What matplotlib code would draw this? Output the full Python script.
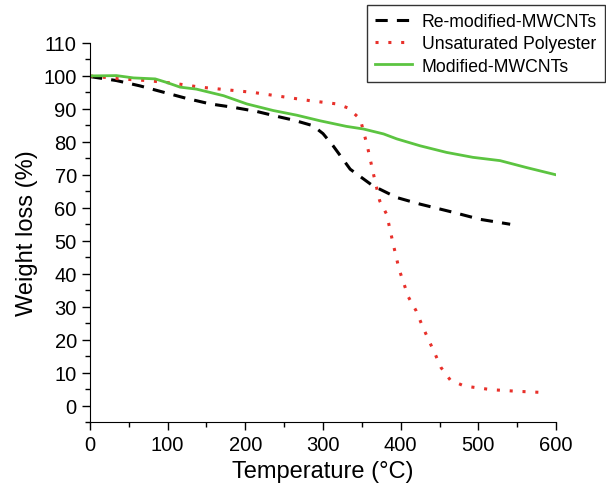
import matplotlib.pyplot as plt
from matplotlib.ticker import MultipleLocator

plt.rcParams['font.family'] = ['Liberation Sans', 'DejaVu Sans']

# Re-modified-MWCNTs
t_re = [0, 34, 64, 94, 124, 155, 184, 215, 245, 262, 287, 300, 313, 335, 364, 395, 425, 468, 502, 541]
w_re = [99.8, 98.6, 97.0, 95.1, 93.2, 91.5, 90.5, 89.2, 87.5, 86.6, 84.9, 82.5, 78.8, 71.7, 66.7, 63.1, 61.1, 58.6, 56.5, 55.0]

# Unsaturated Polyester
t_up = [0, 39, 73, 107, 142, 176, 210, 245, 283, 318, 332, 348, 357, 365, 373, 382, 390, 398, 410,
        420, 428, 436, 444, 452, 464, 482, 517, 551, 588]
w_up = [100, 99.1, 98.6, 97.8, 96.6, 95.8, 95.0, 93.8, 92.5, 91.5, 90.3, 86.9, 78.8, 70.2, 62.1, 58.0,
        49.4, 41.3, 32.9, 28.7, 24.1, 19.9, 15.8, 11.5, 7.7, 5.9, 4.8, 4.3, 3.9]

# Modified-MWCNTs
t_mo = [0, 34, 56, 84, 99, 116, 137, 172, 202, 236, 266, 296, 330, 352, 378, 395, 425, 459, 493, 528, 562, 600]
w_mo = [100, 100.1, 99.4, 99.1, 98.0, 96.6, 96.0, 94.0, 91.5, 89.5, 88.1, 86.4, 84.7, 83.9, 82.4, 80.9,
        78.8, 76.8, 75.3, 74.3, 72.2, 70.0]

fig = plt.figure(figsize=(6.06, 5.02), dpi=100)
ax = fig.add_axes([0.1485, 0.1574, 0.769, 0.755])

ax.plot(t_re, w_re, color='black', linestyle=(0, (4, 3)), linewidth=2.2, label='Re-modified-MWCNTs')
ax.plot(t_up, w_up, color='#e8302a', linestyle=(0, (1, 3.2)), linewidth=2.2, label='Unsaturated Polyester')
ax.plot(t_mo, w_mo, color='#5cc441', linewidth=2, label='Modified-MWCNTs')

ax.set_xlim(0, 600)
ax.set_ylim(-5, 110)
ax.xaxis.set_major_locator(MultipleLocator(100))
ax.xaxis.set_minor_locator(MultipleLocator(50))
ax.yaxis.set_major_locator(MultipleLocator(10))
ax.yaxis.set_minor_locator(MultipleLocator(5))
ax.set_yticks(range(0, 111, 10))
ax.tick_params(which='major', direction='out', length=6, width=1, labelsize=14.5)
ax.tick_params(which='minor', direction='out', length=3.5, width=1)
ax.spines['top'].set_visible(False)
ax.spines['right'].set_visible(False)

ax.set_xlabel('Temperature (°C)', fontsize=17)
ax.set_ylabel('Weight loss (%)', fontsize=17)

leg = fig.legend(loc='upper right', bbox_to_anchor=(0.998, 0.988), fontsize=12.7, frameon=True,
                 fancybox=False, handlelength=2.1, handletextpad=0.55, borderaxespad=0,
                 labelspacing=0.3, borderpad=0.45)
leg.get_frame().set_edgecolor('black')
leg.get_frame().set_linewidth(1)

fig.savefig('out.png', dpi=100)
